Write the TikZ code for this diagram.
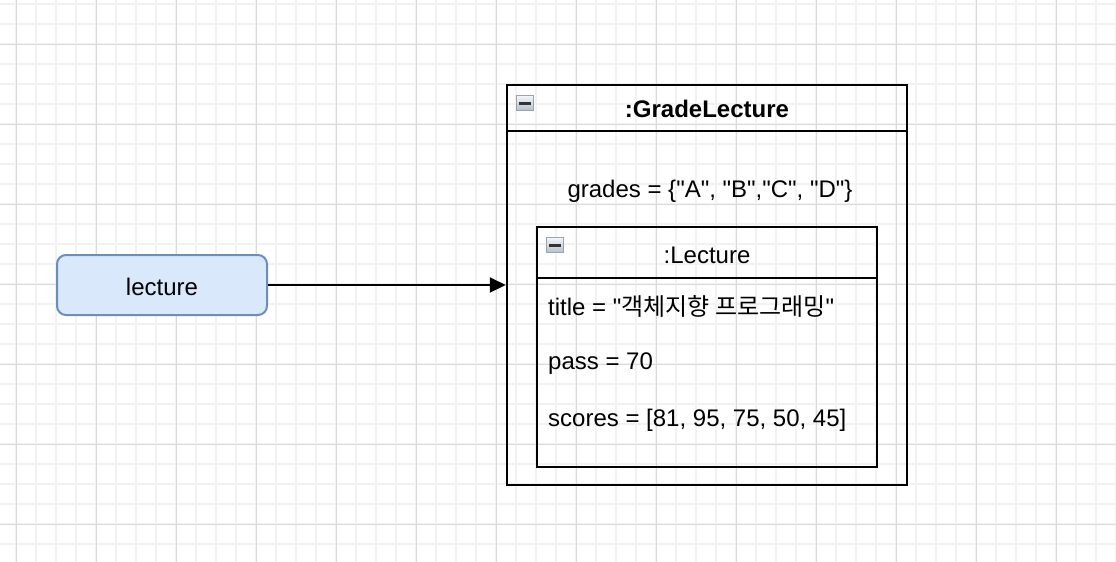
\documentclass[tikz,border=0pt]{standalone}
\usepackage{fontspec}
\setmainfont{Liberation Sans}[Ligatures=TeXOff]
\newfontfamily\krfont{Noto Sans CJK KR}
\usetikzlibrary{arrows.meta}
\definecolor{minorgrid}{HTML}{F2F2F2}
\definecolor{majorgrid}{HTML}{DADADA}
\definecolor{lecfill}{HTML}{DAE8FC}
\definecolor{lecdraw}{HTML}{6C8EBF}
\definecolor{icontop}{HTML}{F4F6F8}
\definecolor{iconbot}{HTML}{B4C0CC}
\definecolor{iconedge}{HTML}{9AA4AE}
\tikzset{
  minorline/.style={draw=minorgrid, line width=2pt},
  majorline/.style={draw=majorgrid, line width=1pt},
  umlbox/.style={draw=black, line width=2.5pt, inner sep=0pt},
  lecbox/.style={draw=lecdraw, fill=lecfill, line width=2pt, rounded corners=9pt, minimum width=210pt, minimum height=60pt, inner sep=0pt},
  txt/.style={inner sep=0pt, font=\fontsize{24}{28}\selectfont},
  minbox/.style={draw=iconedge, line width=1pt, top color=icontop, bottom color=iconbot, minimum width=17pt, minimum height=15pt, inner sep=0pt},
  minbar/.style={draw=black!80, line width=3pt},
  arrowline/.style={draw=black, line width=2pt, -{Triangle[length=16pt,width=15pt]}}
}
\begin{document}
\begin{tikzpicture}[x=1pt,y=-1pt]
\useasboundingbox (0,0) rectangle (1116,562);
\fill[white] (0,0) rectangle (1116,562);
% grid
\draw[minorline] foreach \x in {16,36,...,1116} {(\x,0) -- (\x,562)};
\draw[minorline] foreach \y in {4,24,...,562} {(0,\y) -- (1116,\y)};
\draw[majorline] foreach \x in {16,96,...,1116} {(\x,0) -- (\x,562)};
\draw[majorline] foreach \y in {44,124,...,562} {(0,\y) -- (1116,\y)};
% outer object
\node[umlbox, minimum width=400pt, minimum height=400pt] (outer) at (707,285) {};
\coordinate (oh1) at (507,131);
\coordinate (oh2) at (907,131);
\draw[line width=2.5pt] (oh1) -- (oh2);
\node[txt, font=\fontsize{24}{28}\selectfont\bfseries] (otitle) at (707,109) {:GradeLecture};
\node[minbox] (icon1) at (525,103) {};
\draw[minbar] ([xshift=3pt]icon1.west) -- ([xshift=-3pt]icon1.east);
\node[txt] (grades) at (710,191) {grades = \{"A", "B","C", "D"\}};
% inner object
\node[umlbox, minimum width=340pt, minimum height=240pt] (inner) at (707,347) {};
\coordinate (ih1) at (537,278);
\coordinate (ih2) at (877,278);
\draw[line width=2.5pt] (ih1) -- (ih2);
\node[txt] (ititle) at (707,255) {:Lecture};
\node[minbox] (icon2) at (555,245) {};
\draw[minbar] ([xshift=3pt]icon2.west) -- ([xshift=-3pt]icon2.east);
\node[txt, anchor=west] (ttl) at (548,306) {title = "{\krfont 객체지향 프로그래밍}"};
\node[txt, anchor=west] (pass) at (548,364) {pass = 70};
\node[txt, anchor=west] (scores) at (548,420) {scores = [81, 95, 75, 50, 45]};
% reference
\node[lecbox] (lec) at (162,285) {};
\node[txt] (lectxt) at (162,287) {lecture};
\draw[arrowline] (lec.east) -- (outer.west);
\end{tikzpicture}
\end{document}
